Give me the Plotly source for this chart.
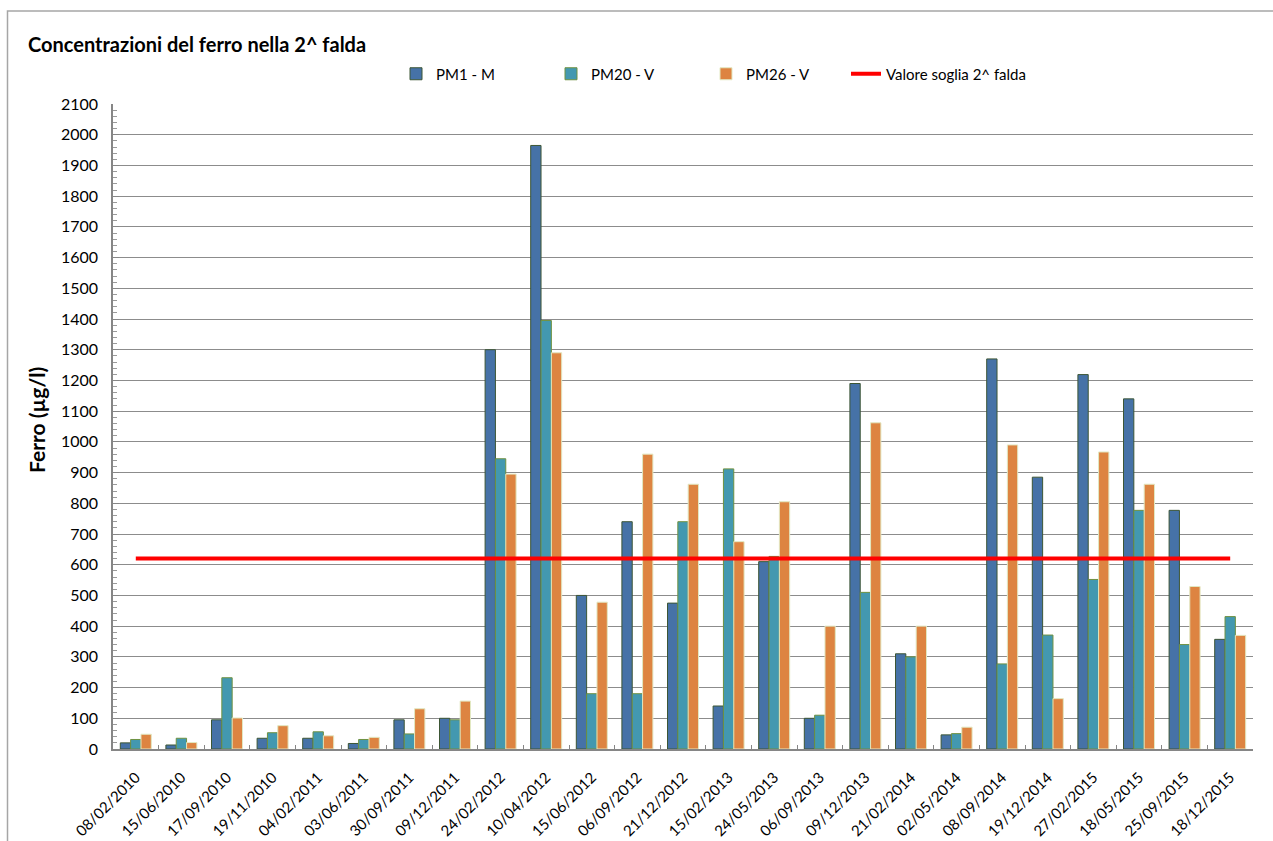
import plotly.graph_objects as go

# Sampling dates (category axis)
dates = [
    "08/02/2010", "15/06/2010", "17/09/2010", "19/11/2010", "04/02/2011",
    "03/06/2011", "30/09/2011", "09/12/2011", "24/02/2012", "10/04/2012",
    "15/06/2012", "06/09/2012", "21/12/2012", "15/02/2013", "24/05/2013",
    "06/09/2013", "09/12/2013", "21/02/2014", "02/05/2014", "08/09/2014",
    "19/12/2014", "27/02/2015", "18/05/2015", "25/09/2015", "18/12/2015",
]

# Iron concentration (µg/l) per monitoring well
pm1_m = [20, 13, 95, 35, 35, 18, 95, 100, 1300, 1965,
         500, 740, 475, 140, 610, 100, 1190, 310, 46, 1270,
         885, 1219, 1140, 777, 357]
pm20_v = [31, 35, 232, 53, 56, 31, 49, 95, 945, 1395,
          180, 180, 740, 912, 627, 110, 510, 300, 50, 277,
          371, 552, 777, 340, 431]
pm26_v = [48, 21, 101, 76, 43, 38, 131, 156, 895, 1290,
          478, 960, 862, 675, 805, 400, 1062, 400, 71, 990,
          164, 967, 862, 529, 370]

# Threshold value for the 2nd aquifer
soglia = 620

FONT = "Lato"

fig = go.Figure()
fig.add_trace(go.Bar(
    name="PM1 - M", x=dates, y=pm1_m,
    marker=dict(color="#4672A7", line=dict(color="#3D5635", width=1)),
))
fig.add_trace(go.Bar(
    name="PM20 - V", x=dates, y=pm20_v,
    marker=dict(color="#4398B0", line=dict(color="#6F9140", width=1)),
))
fig.add_trace(go.Bar(
    name="PM26 - V", x=dates, y=pm26_v,
    marker=dict(color="#DD8441", line=dict(color="#E2E8C2", width=1)),
))
fig.add_trace(go.Scatter(
    name="Valore soglia 2^ falda", x=dates, y=[soglia] * len(dates),
    mode="lines", line=dict(color="#FF0000", width=4),
    legend="legend2",
))

legend_font = dict(family=FONT, size=15, color="black")
legend_y = (749 - 74) / 645

fig.update_layout(
    width=1273, height=841,
    margin=dict(l=113, r=20, t=104, b=92),
    paper_bgcolor="white", plot_bgcolor="white",
    barmode="group", bargap=0.32, bargroupgap=0,
    font=dict(family=FONT, color="black"),
    title=dict(
        text="<b>Concentrazioni del ferro nella 2^ falda</b>",
        font=dict(family=FONT, size=20, color="black"),
        xref="container", x=0.022, xanchor="left",
        yref="container", y=1 - 45 / 841, yanchor="middle",
    ),
    legend=dict(
        orientation="h", x=(396 - 113) / 1140, xanchor="left",
        y=legend_y, yanchor="middle",
        font=legend_font, entrywidth=110, itemwidth=30,
        bgcolor="rgba(0,0,0,0)",
    ),
    legend2=dict(
        orientation="h", x=(846 - 113) / 1140, xanchor="left",
        y=legend_y, yanchor="middle",
        font=legend_font, itemwidth=30,
        bgcolor="rgba(0,0,0,0)",
    ),
    xaxis=dict(
        type="category", tickangle=-45, automargin=False,
        tickfont=dict(family=FONT, size=15, color="black"),
        showline=True, linecolor="#868686", linewidth=1.5,
        ticks="inside", tickson="boundaries", ticklen=4, tickcolor="#868686",
        ticklabelstandoff=12,
        showgrid=False,
    ),
    yaxis=dict(
        range=[0, 2100], dtick=100, tick0=0, automargin=False,
        tickfont=dict(family=FONT, size=16, color="black"),
        showline=True, linecolor="#868686", linewidth=1.5,
        ticks="inside", ticklen=6, tickcolor="#868686",
        minor=dict(dtick=20, ticks="inside", ticklen=4, tickcolor="#9a9a9a", showgrid=False),
        ticklabelstandoff=10,
        showgrid=True, gridcolor="#8C8C8C", gridwidth=1,
        zeroline=False,
    ),
    annotations=[dict(
        text="<b>Ferro (µg/l)</b>", textangle=-90,
        xref="paper", yref="paper",
        x=(36 - 113) / 1140, y=(749 - 420) / 645,
        xanchor="center", yanchor="middle", showarrow=False,
        font=dict(family=FONT, size=21, color="black"),
    )],
    shapes=[dict(
        type="rect", xref="paper", yref="paper",
        x0=(7.5 - 113) / 1140, x1=1.2, y0=-0.5, y1=(749 - 11) / 645,
        line=dict(color="#A6A6A6", width=1.5), fillcolor="rgba(0,0,0,0)",
        layer="below",
    )],
)

fig.write_html("out.html")
